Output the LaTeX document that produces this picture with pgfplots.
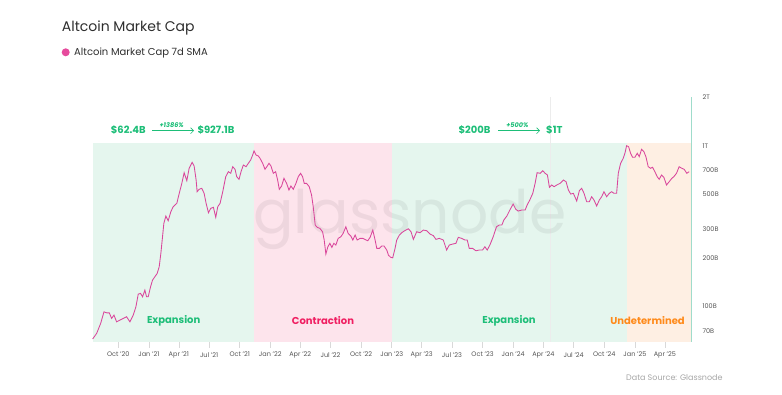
\documentclass[border=0pt]{standalone}
\usepackage{pgfplots}
\pgfplotsset{compat=1.18}
\usepackage{fontspec}
\setmainfont{Poppins}
\usetikzlibrary{arrows.meta}
\definecolor{linecol}{HTML}{D9469B}
\definecolor{dotcol}{HTML}{E64B9D}
\definecolor{expbg}{HTML}{E5F6EE}
\definecolor{conbg}{HTML}{FDE4EC}
\definecolor{undbg}{HTML}{FEEFE3}
\definecolor{grn}{HTML}{1DBE78}
\definecolor{conred}{HTML}{F01F62}
\definecolor{undor}{HTML}{FF8A1A}
\definecolor{axteal}{HTML}{9FDCCB}
\definecolor{titlecol}{HTML}{2E2E2E}
\definecolor{ticklab}{HTML}{555555}
\pgfplotstableread{
x y
-77 62.4
-65 67.6
-53 78.0
-43 92.1
-35 90.8
-27 90.8
-20 83.8
-13 87.9
-5 79.8
5 81.8
15 83.8
25 85.8
35 79.8
45 87.9
53 99.0
60 118.8
67 120.0
73 114.3
80 125.8
85 114.3
90 114.3
97 131.9
103 145.3
110 152.4
117 160.0
123 175.9
128 213.3
133 270.6
137 328.1
143 364.2
150 340.5
158 387.6
165 416.4
176 437.3
182 492.5
191 582.4
198 678.6
206 604.6
213 722.8
222 788.0
228 747.0
234 610.9
237 516.4
243 534.6
251 542.3
258 504.7
264 437.3
271 382.0
278 406.9
286 412.9
293 357.5
299 416.4
306 437.3
314 516.4
323 640.7
331 688.6
338 672.8
344 739.6
351 712.6
356 640.7
363 617.1
369 688.6
376 757.8
384 739.6
391 776.6
398 814.4
404 875.0
408 927.1
414 875.0
421 862.8
426 834.7
434 776.6
441 712.6
448 747.0
453 776.6
459 747.0
466 672.8
473 688.6
479 610.9
484 534.6
491 560.7
498 626.0
506 582.4
513 529.3
519 560.7
526 534.6
534 582.4
541 640.7
548 672.8
554 640.7
559 582.4
566 582.4
574 555.1
581 492.5
586 416.4
592 320.0
598 309.7
606 305.2
614 290.7
619 258.2
624 211.1
630 234.4
636 246.2
642 232.4
648 246.2
654 240.2
661 264.4
669 270.6
676 284.1
684 312.4
691 284.1
699 273.3
705 258.2
712 277.3
718 258.2
727 264.4
735 264.4
741 260.6
750 255.5
757 268.3
765 297.9
772 258.2
777 229.1
785 229.1
792 236.7
799 236.7
807 223.6
812 208.0
819 201.3
825 200.0
832 229.1
837 258.2
845 277.3
852 286.6
861 295.1
872 303.5
880 290.7
887 260.6
897 290.7
907 286.6
917 297.9
927 295.1
937 281.2
947 275.0
955 260.6
965 264.4
977 258.2
987 223.6
995 240.2
1005 243.6
1015 246.2
1022 268.3
1032 264.4
1042 258.2
1049 258.2
1055 229.1
1065 229.1
1075 221.3
1085 223.6
1095 223.6
1102 234.4
1109 223.6
1117 240.2
1127 270.6
1137 312.4
1145 320.0
1153 320.0
1159 343.9
1168 364.2
1177 397.1
1187 432.8
1195 401.0
1202 391.4
1213 397.1
1223 397.1
1229 426.6
1237 458.4
1246 504.7
1253 582.4
1259 678.6
1268 672.8
1276 698.4
1283 672.8
1290 656.6
1296 550.3
1303 568.7
1310 555.1
1318 568.7
1328 582.4
1338 610.9
1346 596.2
1353 529.3
1360 499.5
1368 504.7
1378 451.9
1386 523.9
1393 542.3
1400 504.7
1408 447.6
1416 447.6
1423 480.6
1430 458.4
1438 420.7
1446 458.4
1453 480.6
1460 516.4
1468 480.6
1476 504.7
1483 516.4
1490 504.7
1498 504.7
1503 672.8
1510 776.6
1518 834.7
1523 896.9
1528 1000
1534 985.8
1540 896.9
1546 846.9
1553 846.9
1560 896.9
1566 854.2
1573 949.5
1580 917.5
1586 854.2
1593 739.6
1600 722.8
1606 733.2
1613 688.6
1620 640.7
1626 617.1
1633 656.6
1640 635.2
1648 568.7
1656 596.2
1664 626.0
1670 640.7
1678 672.8
1686 739.6
1694 722.8
1701 712.6
1709 672.8
1716 688.6
}\altcap
\begin{document}
\begin{tikzpicture}
\path[use as bounding box] (0,0) rectangle (782pt,-395pt);
\begin{axis}[
  at={(93pt,-341.7pt)}, anchor=south west,
  scale only axis, width=598pt, height=244.3pt,
  xmin=-76, xmax=1721.6, ymin=60, ymax=2000,
  ymode=log, clip=false,
  axis x line*=bottom, axis y line*=right,
  axis line style={draw=none},
  xtick={0,92,182,273,365,457,547,638,730,822,912,1003,1095,1187,1278,1369,1461,1553,1643},
  xticklabels={Oct '20,Jan '21,Apr '21,Jul '21,Oct '21,Jan '22,Apr '22,Jul '22,Oct '22,Jan '23,Apr '23,Jul '23,Oct '23,Jan '24,Apr '24,Jul '24,Oct '24,Jan '25,Apr '25},
  x tick style={draw=gray!30, line width=0.5pt},
  tick align=outside, major tick length=6pt,
  ytick={70,100,200,300,500,700,1000,2000},
  yticklabels={70B,100B,200B,300B,500B,700B,1T,2T},
  y tick style={draw=none},
  yticklabel pos=right,
  minor ytick={},
  /pgf/number format/assume math mode=true,
  ticklabel style={font=\fontsize{6.5}{7}\selectfont, text=ticklab},
  xticklabel style={yshift=-1pt},
  yticklabel style={xshift=2pt},
]
\addplot[draw=none, fill=expbg] coordinates {(-76,60) (-76,1040) (408,1040) (408,60)} -- cycle;
\addplot[draw=none, fill=conbg] coordinates {(408,60) (408,1040) (822,1040) (822,60)} -- cycle;
\addplot[draw=none, fill=expbg] coordinates {(822,60) (822,1040) (1528,1040) (1528,60)} -- cycle;
\addplot[draw=none, fill=undbg] coordinates {(1528,60) (1528,1040) (1721.6,1040) (1721.6,60)} -- cycle;
\addplot[gray!15, line width=0.5pt] coordinates {(1297,60) (1297,2000)};
\addplot[axteal, line width=0.9pt] coordinates {(1721.6,60) (1721.6,2000)};
\node[anchor=base, text=black, opacity=0.06, font=\fontsize{60}{62}\selectfont] at (rel axis cs:0.530,0.4437) {glassnode};
\addplot[linecol, line width=0.85pt] table[x=x, y=y] {\altcap};
\end{axis}
% title and legend
\node[anchor=base west, inner sep=0, text=titlecol, font=\fontsize{14}{16}\selectfont] at (61.7pt,-31.5pt) {Altcoin Market Cap};
\fill[dotcol] (65.7pt,-52.3pt) circle (4pt);
\node[anchor=base west, inner sep=0, text=titlecol, font=\fontsize{10}{12}\selectfont] at (74pt,-56pt) {Altcoin Market Cap 7d SMA};
% annotations
\node[anchor=mid west, inner sep=0, text=grn, font=\bfseries\fontsize{10}{12}\selectfont] at (110.7pt,-130.7pt) {\$62.4B};
\draw[grn, line width=0.6pt, -{Straight Barb[length=3pt]}] (152.3pt,-130.7pt) -- (194pt,-130.7pt);
\node[anchor=center, inner sep=0, text=grn, font=\bfseries\itshape\fontsize{6.5}{8}\selectfont] at (171.7pt,-125pt) {+1386\%};
\node[anchor=mid west, inner sep=0, text=grn, font=\bfseries\fontsize{10}{12}\selectfont] at (197.3pt,-130.7pt) {\$927.1B};
\node[anchor=mid west, inner sep=0, text=grn, font=\bfseries\fontsize{10}{12}\selectfont] at (458.3pt,-130.7pt) {\$200B};
\draw[grn, line width=0.6pt, -{Straight Barb[length=3pt]}] (498.3pt,-130.7pt) -- (540pt,-130.7pt);
\node[anchor=center, inner sep=0, text=grn, font=\bfseries\itshape\fontsize{6.5}{8}\selectfont] at (517.3pt,-125pt) {+500\%};
\node[anchor=mid west, inner sep=0, text=grn, font=\bfseries\fontsize{10}{12}\selectfont] at (546pt,-130.7pt) {\$1T};
% regime labels
\node[anchor=center, inner sep=0, text=grn, font=\bfseries\fontsize{10}{12}\selectfont] at (173.7pt,-321pt) {Expansion};
\node[anchor=center, inner sep=0, text=conred, font=\bfseries\fontsize{10}{12}\selectfont] at (323pt,-321pt) {Contraction};
\node[anchor=center, inner sep=0, text=grn, font=\bfseries\fontsize{10}{12}\selectfont] at (509pt,-321pt) {Expansion};
\node[anchor=center, inner sep=0, text=undor, font=\bfseries\fontsize{10}{12}\selectfont] at (647.5pt,-321pt) {Undetermined};
% source
\node[anchor=base west, inner sep=0, text=gray!70, font=\fontsize{8}{10}\selectfont] at (626pt,-380.5pt) {Data Source: Glassnode};
\end{tikzpicture}
\end{document}
